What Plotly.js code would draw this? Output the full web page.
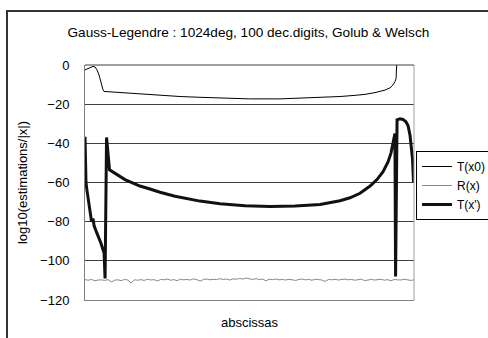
<!DOCTYPE html>
<html><head><meta charset="utf-8">
<script src="https://cdn.plot.ly/plotly-3.0.1.min.js"></script>
<style>
html,body{margin:0;padding:0;background:#fff;}
#wrap{position:relative;width:488px;height:338px;overflow:hidden;}
#chart{width:488px;height:338px;}
#frame{position:absolute;left:6px;top:10px;width:600px;height:400px;border-left:2px solid #333;border-top:2px solid #333;pointer-events:none;}
</style></head>
<body><div id="wrap"><div id="chart"></div><div id="frame"></div></div>
<script>
// T(x0)
const tx0X = [-1.000,-0.988,-0.976,-0.964,-0.951,-0.939,-0.927,-0.915,-0.903,-0.891,-0.884,-0.848,-0.787,-0.666,-0.544,-0.422,-0.301,-0.179,0.000,0.185,0.307,0.429,0.550,0.641,0.702,0.763,0.824,0.854,0.872,0.884,0.891,0.897,1.000];
const tx0Y = [-2.5,-2.0,-1.5,-0.9,-0.7,-1.0,-2.5,-5.0,-9.0,-12.5,-13.5,-13.7,-14.2,-15.0,-15.6,-16.1,-16.5,-16.9,-17.3,-17.3,-17.0,-16.7,-16.1,-15.5,-15.0,-14.1,-12.8,-11.7,-10.2,-8.5,-7.0,4.0,4.0];
// T(x')
const txpX = [-1.000,-0.997,-0.994,-0.988,-0.982,-0.976,-0.970,-0.960,-0.951,-0.945,-0.927,-0.903,-0.884,-0.878,-0.869,-0.851,-0.757,-0.666,-0.605,-0.544,-0.453,-0.362,-0.301,-0.179,-0.027,0.125,0.277,0.429,0.550,0.611,0.672,0.733,0.775,0.812,0.842,0.860,0.872,0.884,0.888,0.897,0.915,0.933,0.951,0.964,0.976,0.985,0.991,0.997];
const txpY = [-36.7,-50,-60,-64,-68,-72,-76,-80,-78.5,-82,-86,-91,-96,-109,-37,-53.5,-58.5,-61.8,-63.3,-65.0,-67.0,-68.6,-69.5,-70.8,-71.9,-72.2,-72.0,-71.2,-69.3,-67.8,-65.5,-61.8,-58.5,-54.5,-49.5,-45.0,-40.5,-35.0,-108,-28,-27.5,-27.8,-29,-31,-36,-42,-48,-60];
// R(x): evenly spaced samples across the abscissas
const rY = [
-109.6,-109.9,-109.5,-110.2,-109.8,-109.7,-110.0,-109.6,-110.8,-109.9,
-109.7,-110.1,-109.5,-109.8,-111.3,-109.7,-109.9,-109.6,-110.0,-109.4,
-109.8,-109.6,-110.3,-109.5,-109.7,-109.3,-109.9,-109.6,-110.1,-109.4,
-109.7,-109.5,-109.8,-109.2,-109.6,-110.4,-109.5,-109.3,-109.7,-109.4,
-109.6,-109.1,-109.5,-109.3,-109.8,-109.2,-109.4,-109.0,-109.3,-108.8,
-109.2,-109.5,-109.1,-109.6,-109.3,-110.2,-109.4,-109.6,-109.3,-109.7,
-109.5,-109.8,-109.4,-109.6,-110.0,-109.5,-109.3,-109.7,-109.5,-109.9,
-109.4,-109.6,-109.8,-110.5,-109.5,-109.7,-109.4,-109.8,-109.6,-109.3,
-109.7,-109.5,-109.9,-109.6,-109.4,-110.1,-109.7,-109.5,-109.8,-109.6,
-109.4,-109.9,-109.6,-110.2,-109.5,-109.7,-109.8,-109.4,-109.6,-110.0,-109.7];
const rX = rY.map((_, i) => -1 + 2 * i / (rY.length - 1));
const seriesNames = ["T(x0)", "R(x)", "T(x')"];
const yTicks = [0, -20, -40, -60, -80, -100, -120];

const font = "Liberation Sans, Arial, sans-serif";
const traces = [
  {x: tx0X, y: tx0Y, name: seriesNames[0], mode: "lines", line: {color: "#000", width: 1}},
  {x: rX, y: rY, name: seriesNames[1], mode: "lines", line: {color: "#888", width: 1}},
  {x: txpX, y: txpY, name: seriesNames[2], mode: "lines", line: {color: "#111", width: 3}}
];
const layout = {
  width: 488, height: 338,
  margin: {l: 85, r: 74, t: 65, b: 38, autoexpand: false},
  paper_bgcolor: "#fff", plot_bgcolor: "#fff",
  font: {family: font, size: 13, color: "#000"},
  title: {text: "Gauss-Legendre : 1024deg, 100 dec.digits, Golub &amp; Welsch", x: 0.509, xanchor: "center", y: 0.905, yanchor: "middle", font: {family: font, size: 13.6}},
  xaxis: {range: [-1, 1], showticklabels: false, ticks: "", showgrid: false, zeroline: false,
          showline: true, linecolor: "#808080", linewidth: 1, automargin: false,
          title: {text: "abscissas", standoff: 17, font: {family: font, size: 13}}},
  yaxis: {range: [-120, 0], tickvals: yTicks, ticks: "", showgrid: true, gridcolor: "#404040", gridwidth: 1,
          zeroline: false, showline: true, linecolor: "#808080", linewidth: 1, ticklabelstandoff: 12, automargin: false,
          tickfont: {family: font, size: 13},
          title: {text: "log10(estimations/|x|)", standoff: 9, font: {family: font, size: 13}}},
  showlegend: true,
  legend: {x: 1.006, y: 0.634, xanchor: "left", yanchor: "top", bgcolor: "#fff", bordercolor: "#000", borderwidth: 1,
           font: {family: font, size: 12}, itemwidth: 30, tracegroupgap: 0},
  shapes: [
    {type: "line", xref: "paper", yref: "paper", x0: 1, x1: 1, y0: 0, y1: 1, line: {color: "#a0a0a0", width: 1}},
    {type: "line", xref: "paper", yref: "paper", x0: 0, x1: 1, y0: 1, y1: 1, line: {color: "#404040", width: 1}}
  ]
};
Plotly.newPlot("chart", traces, layout, {displayModeBar: false, staticPlot: true});
</script></body></html>
